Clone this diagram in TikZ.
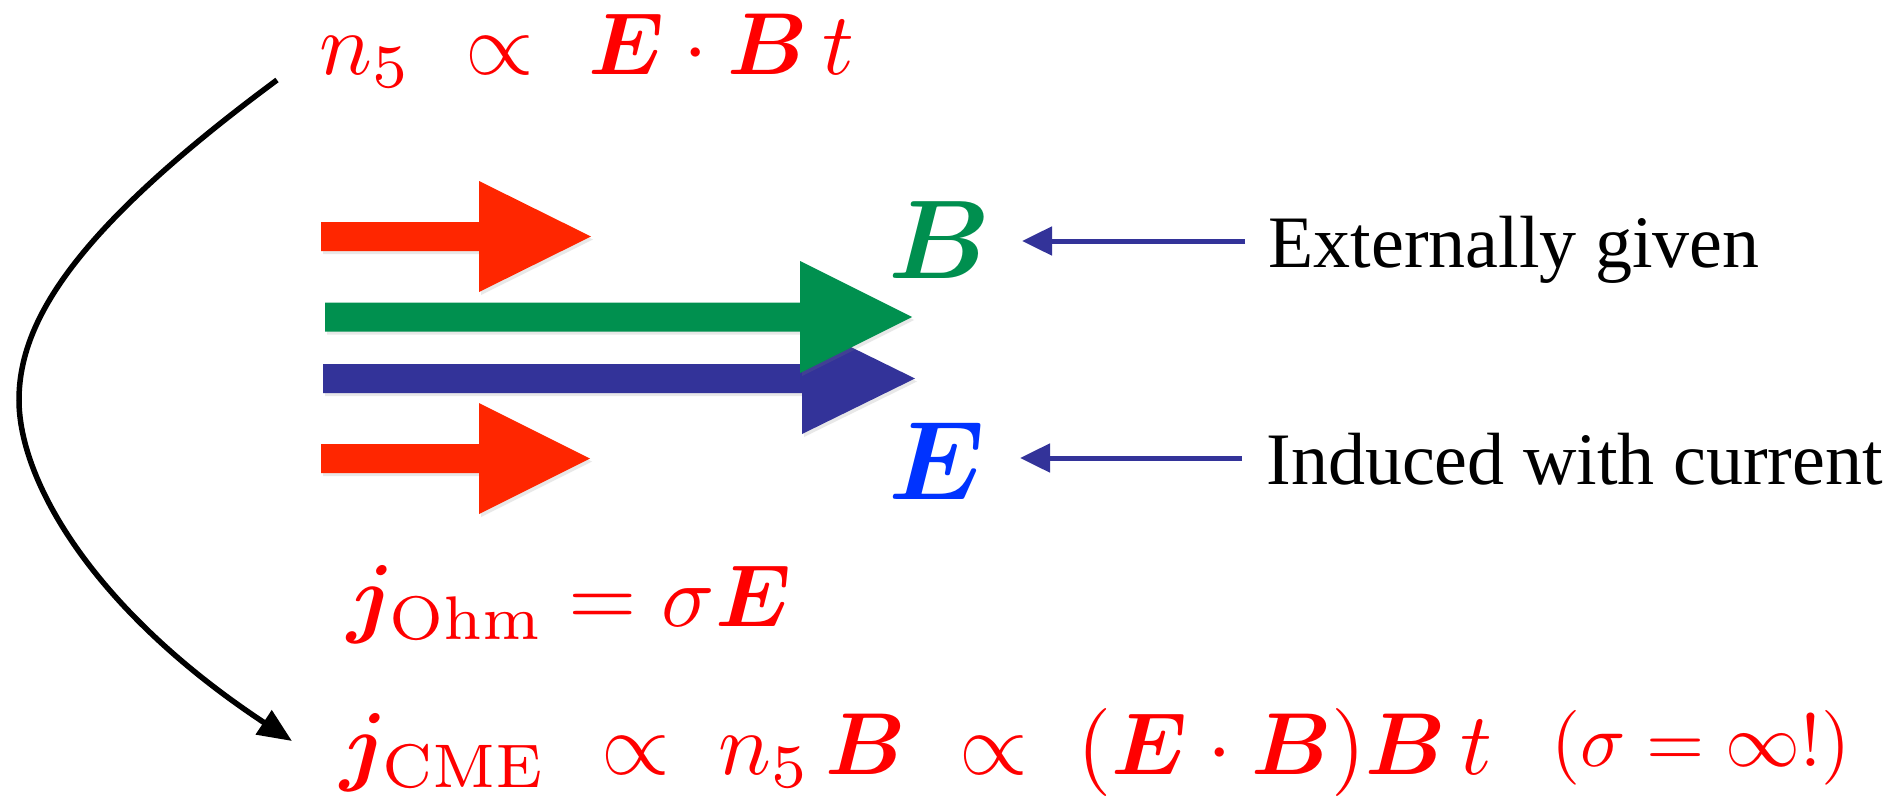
\documentclass[tikz,border=0pt]{standalone}
\usepackage{amsmath,bm}
\usepackage{fontspec}
\newfontfamily\tnr{Liberation Serif}
\usetikzlibrary{arrows.meta,shadows}
\definecolor{txtred}{HTML}{FF0000}
\definecolor{arrred}{HTML}{FF2600}
\definecolor{arrgreen}{HTML}{00904F}
\definecolor{arrblue}{HTML}{333399}
\definecolor{lblgreen}{HTML}{008F4F}
\definecolor{lblblue}{HTML}{0033FF}
\begin{document}
\begin{tikzpicture}[x=1pt,y=-1pt,
  mathtxt/.style={inner sep=0pt, anchor=base west, text=txtred, scale=8.8},
  fieldlbl/.style={inner sep=0pt, anchor=base west, scale=11.2},
  note/.style={inner sep=0pt, anchor=base west, scale=7.4, font=\tnr},
  blk/.style={drop shadow={shadow xshift=2pt, shadow yshift=-3pt, opacity=0.18}},
  pointer/.style={draw=arrblue, line width=5pt, -{Triangle[length=30pt,width=28pt]}},
  curvearrow/.style={draw=black, line width=5.5pt, -{Triangle[length=34pt,width=28pt]}}]
\useasboundingbox (0,0) rectangle (1901,798);

% block arrows
\fill[arrred, blk] (321,222) -- (479,222) -- (479,181) -- (591,236.5) -- (479,292) -- (479,251) -- (321,251) -- cycle;
\fill[arrblue, blk] (323,364) -- (802,364) -- (802,323) -- (915,378.5) -- (802,434) -- (802,393) -- (323,393) -- cycle;
\fill[arrgreen, blk] (325,302.5) -- (800,302.5) -- (800,261) -- (912,317) -- (800,373) -- (800,331.5) -- (325,331.5) -- cycle;
\fill[arrred, blk] (321,444) -- (479,444) -- (479,403) -- (590,458.5) -- (479,514) -- (479,473) -- (321,473) -- cycle;

% labels
\node[fieldlbl, text=lblgreen] (B) at (886,278) {$\bm{B}$};
\node[fieldlbl, text=lblblue] (E) at (886,499) {$\bm{E}$};
\node[note] (ext) at (1267,267) {Externally given};
\node[note] (ind) at (1265,484) {Induced with current};

\coordinate (extS) at (1245,241);
\coordinate (extT) at (1022,241);
\coordinate (indS) at (1242,458);
\coordinate (indT) at (1020,458);
\draw[pointer] (extS) -- (extT);
\draw[pointer] (indS) -- (indT);

% formulas
\node[mathtxt] (top) at (318,74) {$n_5\mkern6mu\propto\mkern6mu\bm{E}\cdot\bm{B}\,t$};
\node[mathtxt] (ohm) at (346,626) {$\bm{j}_{\mathrm{Ohm}}=\sigma\bm{E}$};
\node[mathtxt] (cme) at (339,774) {$\bm{j}_{\mathrm{CME}}\mkern6mu\propto\mkern5mu n_5\,\bm{B}\mkern6mu\propto\mkern5mu(\bm{E}\cdot\bm{B})\bm{B}\,t\mkern12mu\raisebox{0.8pt}{\scalebox{0.85}{$(\sigma=\infty!)$}}$};

% curved connector
\coordinate (cs) at (277,80);
\coordinate (cm) at (19,400);
\coordinate (ce) at (292,741);
\draw[curvearrow] (cs) .. controls (77,228) and (19,320) .. (cm)
            .. controls (19,480) and (92,609) .. (ce);
\end{tikzpicture}
\end{document}
